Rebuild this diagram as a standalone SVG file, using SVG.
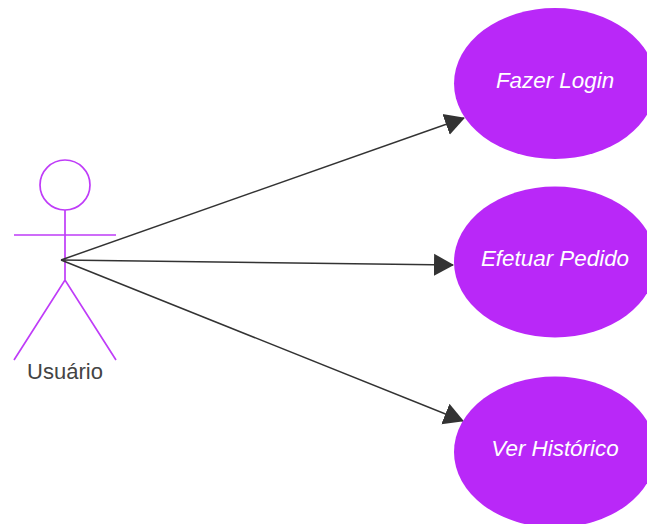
<svg xmlns="http://www.w3.org/2000/svg" width="647" height="524" viewBox="0 0 647 524">
<style>
.uc{fill:#b928f8;stroke:none}
.ut{font-family:"Liberation Sans",Arial,sans-serif;font-size:22.4px;font-style:italic;fill:#fff;text-anchor:middle}
.a{fill:none;stroke:#bf3cf8;stroke-width:1.7}
.c{fill:none;stroke:#333;stroke-width:1.5;marker-end:url(#m)}
</style>
<defs><marker id="m" markerUnits="userSpaceOnUse" markerWidth="24" markerHeight="24" refX="19" refY="12" orient="auto"><path d="M0 1L20 12L0 23z" fill="#333"/></marker></defs>
<rect width="647" height="524" fill="#fff"/>
<g id="actor"><circle class="a" cx="65" cy="185" r="25"/><path class="a" d="M65 210V280M14 235H116M14 360L65 280L116 360"/><text x="65" y="379" font-family="Liberation Sans,Arial,sans-serif" font-size="22" fill="#444" text-anchor="middle">Usuário</text></g>
<g id="connectors"><path class="c" d="M61 260L464 118"/><path class="c" d="M61 260L453 265"/><path class="c" d="M61 260L463 421"/></g>
<g id="uc1"><ellipse class="uc" cx="555" cy="83.500" rx="101" ry="75.500"/><text class="ut" x="555" y="88">Fazer Login</text></g>
<g id="uc2"><ellipse class="uc" cx="555" cy="262" rx="101" ry="75.500"/><text class="ut" x="555" y="266">Efetuar Pedido</text></g>
<g id="uc3"><ellipse class="uc" cx="555" cy="452" rx="101" ry="75.500"/><text class="ut" x="555" y="456">Ver Histórico</text></g>
</svg>
